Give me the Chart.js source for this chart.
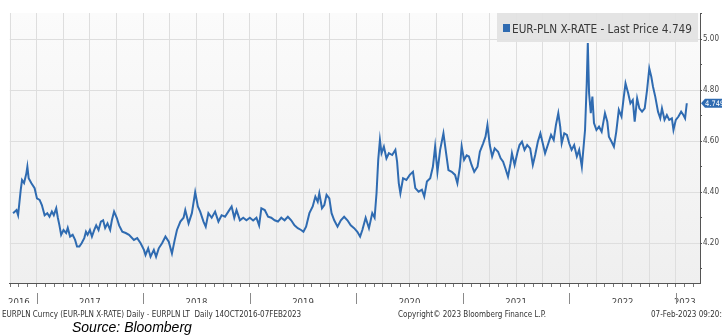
<!DOCTYPE html>
<html>
<head>
<meta charset="utf-8">
<script src="https://cdn.jsdelivr.net/npm/chart.js@4.4.1/dist/chart.umd.min.js"></script>
<style>
  html, body { margin: 0; padding: 0; background: #fff; }
  #wrap { width: 722px; height: 336px; position: relative; }
</style>
</head>
<body>
<div id="wrap"><canvas id="fx" width="722" height="336"></canvas></div>
<script>
// EUR-PLN fixing (dates as decimal years)
const dates = [
  2016.779, 2016.811, 2016.826, 2016.851, 2016.863, 2016.882, 2016.904, 2016.913, 2016.925, 2016.951,
  2016.981, 2017.003, 2017.028, 2017.049, 2017.075, 2017.100, 2017.121, 2017.143, 2017.161, 2017.184,
  2017.199, 2017.214, 2017.230, 2017.252, 2017.277, 2017.292, 2017.314, 2017.338, 2017.361, 2017.379,
  2017.401, 2017.422, 2017.447, 2017.463, 2017.478, 2017.500, 2017.519, 2017.541, 2017.559, 2017.581,
  2017.603, 2017.624, 2017.643, 2017.665, 2017.690, 2017.706, 2017.727, 2017.752, 2017.774, 2017.804,
  2017.836, 2017.867, 2017.913, 2017.944, 2017.976, 2018.007, 2018.022, 2018.047, 2018.069, 2018.100,
  2018.121, 2018.146, 2018.177, 2018.209, 2018.240, 2018.270, 2018.296, 2018.317, 2018.349, 2018.379,
  2018.395, 2018.426, 2018.457, 2018.488, 2018.513, 2018.535, 2018.566, 2018.587, 2018.612, 2018.643,
  2018.675, 2018.706, 2018.736, 2018.768, 2018.799, 2018.830, 2018.855, 2018.876, 2018.908, 2018.939,
  2018.969, 2019.001, 2019.032, 2019.063, 2019.088, 2019.109, 2019.141, 2019.172, 2019.202, 2019.234,
  2019.265, 2019.296, 2019.327, 2019.358, 2019.389, 2019.420, 2019.451, 2019.482, 2019.504, 2019.529,
  2019.560, 2019.591, 2019.616, 2019.638, 2019.653, 2019.678, 2019.700, 2019.721, 2019.747, 2019.768,
  2019.793, 2019.824, 2019.855, 2019.886, 2019.917, 2019.948, 2019.980, 2020.010, 2020.036, 2020.057,
  2020.088, 2020.119, 2020.150, 2020.172, 2020.190, 2020.206, 2020.222, 2020.237, 2020.259, 2020.283,
  2020.306, 2020.337, 2020.367, 2020.383, 2020.399, 2020.414, 2020.439, 2020.470, 2020.502, 2020.532,
  2020.554, 2020.585, 2020.616, 2020.638, 2020.663, 2020.694, 2020.719, 2020.740, 2020.762, 2020.787,
  2020.818, 2020.843, 2020.865, 2020.896, 2020.927, 2020.949, 2020.973, 2020.989, 2021.012, 2021.036,
  2021.057, 2021.082, 2021.107, 2021.138, 2021.160, 2021.191, 2021.213, 2021.231, 2021.253, 2021.275,
  2021.299, 2021.331, 2021.355, 2021.378, 2021.399, 2021.424, 2021.448, 2021.461, 2021.486, 2021.511,
  2021.532, 2021.555, 2021.579, 2021.604, 2021.632, 2021.657, 2021.679, 2021.704, 2021.728, 2021.750,
  2021.772, 2021.803, 2021.828, 2021.853, 2021.874, 2021.896, 2021.914, 2021.928, 2021.952, 2021.977,
  2021.998, 2022.021, 2022.045, 2022.070, 2022.092, 2022.117, 2022.147, 2022.163, 2022.173, 2022.185,
  2022.201, 2022.216, 2022.231, 2022.254, 2022.278, 2022.303, 2022.334, 2022.356, 2022.371, 2022.396,
  2022.418, 2022.440, 2022.464, 2022.489, 2022.511, 2022.527, 2022.552, 2022.573, 2022.595, 2022.613,
  2022.636, 2022.657, 2022.682, 2022.707, 2022.729, 2022.750, 2022.769, 2022.785, 2022.806, 2022.832,
  2022.853, 2022.869, 2022.893, 2022.915, 2022.937, 2022.962, 2022.977, 2022.999, 2023.024, 2023.049,
  2023.070, 2023.086, 2023.102
];
const rates = [
  4.318, 4.330, 4.310, 4.410, 4.448, 4.436, 4.475, 4.500, 4.455, 4.435,
  4.416, 4.376, 4.370, 4.350, 4.310, 4.318, 4.304, 4.324, 4.310, 4.337,
  4.300, 4.270, 4.233, 4.252, 4.240, 4.260, 4.226, 4.233, 4.213, 4.187,
  4.187, 4.200, 4.220, 4.245, 4.233, 4.252, 4.226, 4.252, 4.270, 4.252,
  4.285, 4.290, 4.260, 4.278, 4.252, 4.290, 4.324, 4.300, 4.270, 4.245,
  4.240, 4.233, 4.213, 4.220, 4.200, 4.174, 4.154, 4.180, 4.147, 4.174,
  4.147, 4.180, 4.200, 4.226, 4.206, 4.160, 4.213, 4.252, 4.285, 4.300,
  4.330, 4.278, 4.318, 4.400, 4.344, 4.324, 4.285, 4.265, 4.318, 4.300,
  4.324, 4.285, 4.310, 4.304, 4.324, 4.344, 4.300, 4.330, 4.290, 4.300,
  4.290, 4.300, 4.289, 4.300, 4.270, 4.337, 4.330, 4.304, 4.300, 4.290,
  4.285, 4.300, 4.290, 4.304, 4.290, 4.270, 4.259, 4.252, 4.245, 4.265,
  4.318, 4.344, 4.383, 4.363, 4.396, 4.337, 4.350, 4.390, 4.376, 4.318,
  4.290, 4.265, 4.290, 4.304, 4.290, 4.270, 4.259, 4.245, 4.226, 4.252,
  4.300, 4.259, 4.318, 4.300, 4.396, 4.527, 4.605, 4.553, 4.579, 4.533,
  4.553, 4.546, 4.566, 4.520, 4.435, 4.396, 4.455, 4.448, 4.468, 4.480,
  4.416, 4.402, 4.410, 4.383, 4.442, 4.455, 4.500, 4.579, 4.480, 4.566,
  4.631, 4.553, 4.487, 4.480, 4.468, 4.435, 4.500, 4.580, 4.527, 4.545,
  4.540, 4.507, 4.480, 4.500, 4.559, 4.592, 4.618, 4.664, 4.585, 4.540,
  4.572, 4.559, 4.533, 4.520, 4.494, 4.461, 4.514, 4.553, 4.507, 4.553,
  4.585, 4.598, 4.566, 4.585, 4.572, 4.507, 4.546, 4.598, 4.631, 4.592,
  4.553, 4.592, 4.625, 4.605, 4.664, 4.710, 4.657, 4.592, 4.631, 4.625,
  4.592, 4.566, 4.585, 4.540, 4.566, 4.500, 4.644, 4.827, 4.985, 4.788,
  4.710, 4.775, 4.671, 4.644, 4.657, 4.637, 4.710, 4.677, 4.618, 4.598,
  4.579, 4.637, 4.723, 4.697, 4.775, 4.827, 4.788, 4.749, 4.762, 4.677,
  4.768, 4.729, 4.716, 4.729, 4.800, 4.886, 4.853, 4.814, 4.775, 4.716,
  4.690, 4.729, 4.684, 4.703, 4.684, 4.690, 4.644, 4.684, 4.697, 4.716,
  4.703, 4.690, 4.749
];

const yTicks = [4.1, 4.2, 4.3, 4.4, 4.5, 4.6, 4.7, 4.8, 4.9, 5.0, 5.1];
const years = [2016, 2017, 2018, 2019, 2020, 2021, 2022, 2023];

const seriesName = 'EUR-PLN X-RATE';
const footerLeft = 'EURPLN Curncy (EUR-PLN X-RATE) Daily - EURPLN LT  Daily 14OCT2016-07FEB2023';
const footerMid = 'Copyright\u00a9 2023 Bloomberg Finance L.P.';
const footerRight = '07-Feb-2023 09:20:11';
const sourceText = 'Source: Bloomberg';

const xMin = 2016.748, xMax = 2023.226;
const yMin = 4.044, yMax = 5.103;

const narrow = "'Liberation Sans Narrow', 'DejaVu Sans Condensed', 'Arial Narrow', sans-serif";
const lineBlue = '#2f6bb1';

// month ticks along the bottom axis
let monthTicks = [];
years.forEach(y => {
    for (let m = 0; m < 12; m++) {
        let v = y + m / 12;
        if (v >= xMin && v <= xMax) monthTicks.push(v);
    }
});

// which month carries the year label (middle of the visible part of the year)
function labelMonth(y) {
    let mid = (Math.max(y, xMin) + Math.min(y + 1, xMax)) / 2;
    return Math.round((mid - y) * 12);
}

function splitTick(v) {
    let y = Math.floor(v + 1e-6);
    let m = Math.round((v - y) * 12);
    return { y: y, m: m };
}

const chromePlugin = {
    id: 'bbgChrome',
    beforeDraw(chart) {
        const { ctx, chartArea: a } = chart;
        const g = ctx.createLinearGradient(0, a.top, 0, a.bottom);
        g.addColorStop(0, '#fbfbfb');
        g.addColorStop(1, '#efefef');
        ctx.save();
        ctx.fillStyle = g;
        ctx.fillRect(a.left, a.top, a.right - a.left, a.bottom - a.top);
        ctx.restore();
    },
    afterDraw(chart) {
        const { ctx, chartArea: a } = chart;
        const xs = chart.scales.x;
        const ys = chart.scales.y;
        ctx.save();

        // year separators under the axis
        ctx.strokeStyle = '#8a8a8a';
        ctx.lineWidth = 1;
        years.forEach(y => {
            if (y <= xMin || y >= xMax) return;
            let px = Math.round(xs.getPixelForValue(y)) + 0.5;
            ctx.beginPath();
            ctx.moveTo(px, a.bottom + 10);
            ctx.lineTo(px, a.bottom + 21);
            ctx.stroke();
        });

        // footer lines
        ctx.fillStyle = '#333';
        ctx.textBaseline = 'alphabetic';
        ctx.font = '8px ' + narrow;
        ctx.fillText(footerLeft, 2, 317);
        ctx.fillText(footerMid, 398, 317);
        ctx.fillText(footerRight, 651, 317);

        ctx.fillStyle = '#000';
        ctx.font = 'italic 14px "Liberation Sans", Arial, sans-serif';
        ctx.fillText(sourceText, 72, 332);

        // legend box
        const last = rates[rates.length - 1];
        ctx.fillStyle = 'rgba(226,226,226,0.92)';
        ctx.fillRect(497, a.top, 201, 29);
        ctx.fillStyle = lineBlue;
        ctx.fillRect(503, 24, 7, 8);
        let txt = seriesName + ' - Last Price ' + last.toFixed(3);
        ctx.font = '12.5px ' + narrow;
        let w = ctx.measureText(txt).width;
        let target = 180;
        ctx.fillStyle = '#3a3a3a';
        ctx.translate(512, 32.5);
        if (w > target) ctx.scale(target / w, 1);
        ctx.fillText(txt, 0, 0);
        ctx.setTransform(1, 0, 0, 1, 0, 0);

        // last price tag on the right axis
        let py = ys.getPixelForValue(last);
        ctx.fillStyle = lineBlue;
        ctx.beginPath();
        ctx.moveTo(a.right + 1, py);
        ctx.lineTo(a.right + 5, py - 4.5);
        ctx.lineTo(722, py - 4.5);
        ctx.lineTo(722, py + 4.5);
        ctx.lineTo(a.right + 5, py + 4.5);
        ctx.closePath();
        ctx.fill();
        ctx.fillStyle = '#fff';
        ctx.font = '7.5px ' + narrow;
        ctx.textBaseline = 'middle';
        ctx.fillText(last.toFixed(3), a.right + 5, py + 0.5);

        ctx.restore();
    }
};

const points = dates.map((d, i) => ({ x: d, y: rates[i] }));

new Chart(document.getElementById('fx'), {
    type: 'line',
    data: {
        datasets: [{
            label: seriesName,
            data: points,
            borderColor: lineBlue,
            borderWidth: 2,
            pointRadius: 0,
            tension: 0,
            fill: false
        }]
    },
    options: {
        responsive: false,
        animation: false,
        devicePixelRatio: 1,
        layout: { padding: { left: 5, top: 13, right: 0, bottom: 33 } },
        plugins: {
            legend: { display: false },
            tooltip: { enabled: false }
        },
        scales: {
            x: {
                type: 'linear',
                min: xMin,
                max: xMax,
                afterFit: (scale) => { scale.height = 20; },
                afterBuildTicks: (scale) => {
                    scale.ticks = monthTicks.map(v => ({ value: v }));
                },
                grid: {
                    color: (ctx) => {
                        if (!ctx.tick) return 'rgba(0,0,0,0)';
                        return splitTick(ctx.tick.value).m % 3 === 0 ? '#dedede' : 'rgba(0,0,0,0)';
                    },
                    tickColor: '#777',
                    tickLength: 4,
                    lineWidth: 1
                },
                border: { display: true, color: '#555', width: 1 },
                ticks: {
                    autoSkip: false,
                    maxRotation: 0,
                    padding: 10,
                    color: '#444',
                    font: { family: narrow, size: 9.5 },
                    callback: (v) => {
                        let t = splitTick(v);
                        return t.m === labelMonth(t.y) ? String(t.y) : '';
                    }
                }
            },
            y: {
                type: 'linear',
                position: 'right',
                min: yMin,
                max: yMax,
                afterFit: (scale) => { scale.width = 22; },
                afterBuildTicks: (scale) => {
                    scale.ticks = yTicks.map(v => ({ value: v }));
                },
                grid: {
                    color: (ctx) => {
                        if (!ctx.tick) return 'rgba(0,0,0,0)';
                        return Math.round(ctx.tick.value * 10) % 2 === 0 ? '#dedede' : 'rgba(0,0,0,0)';
                    },
                    tickColor: '#555',
                    tickLength: 2
                },
                border: { display: true, color: '#555', width: 1 },
                ticks: {
                    padding: 1,
                    color: '#444',
                    font: { family: narrow, size: 8 },
                    callback: (v) => Math.round(v * 10) % 2 === 0 ? v.toFixed(2) : ''
                }
            }
        }
    },
    plugins: [chromePlugin]
});
</script>
</body>
</html>
